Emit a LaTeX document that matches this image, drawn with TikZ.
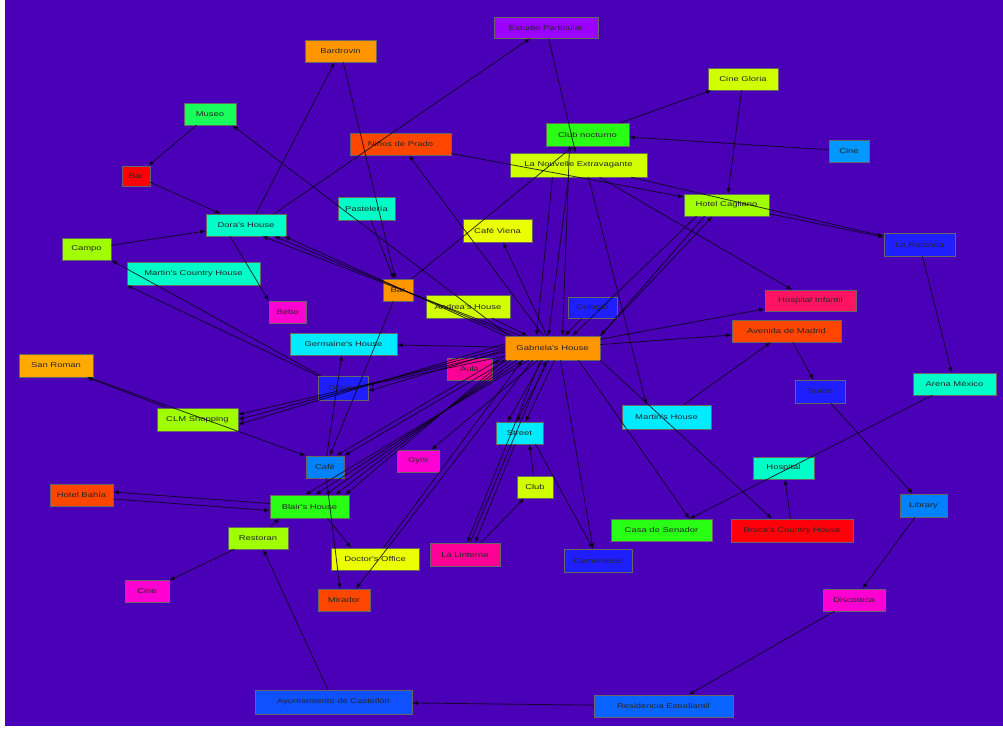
\documentclass[tikz,border=0pt]{standalone}
\usepackage{fontspec}
\newfontfamily\lbl[FakeStretch=1.35]{Liberation Sans}
\usetikzlibrary{arrows.meta}
\definecolor{bgc}{RGB}{74,0,182}
\definecolor{corange}{RGB}{255,150,0}
\definecolor{cgold}{RGB}{255,170,0}
\definecolor{cchart}{RGB}{160,255,0}
\definecolor{clime}{RGB}{210,255,0}
\definecolor{cyell}{RGB}{235,255,0}
\definecolor{cgreen}{RGB}{40,255,20}
\definecolor{cmint}{RGB}{0,255,200}
\definecolor{ccyan}{RGB}{0,235,255}
\definecolor{cazure}{RGB}{0,130,255}
\definecolor{cdblue}{RGB}{30,30,255}
\definecolor{cred}{RGB}{255,0,10}
\definecolor{cvermil}{RGB}{255,70,0}
\definecolor{cmag}{RGB}{255,0,210}
\definecolor{crose}{RGB}{255,0,150}
\definecolor{cpinkred}{RGB}{255,20,100}
\definecolor{cviolet}{RGB}{155,0,255}
\tikzset{
  box/.style={rectangle, draw=black!60, line width=0.5pt, inner sep=0pt,
    text=black!85, font={\lbl\fontsize{7}{8}\selectfont}},
  e/.style={draw=black!90!bgc, line width=0.8pt, draw opacity=0.8,
    -{Latex[length=5.5pt,width=4.5pt]}}
}
\begin{document}
\begin{tikzpicture}[x=1pt,y=-1pt]
\useasboundingbox (0,0) rectangle (1003,729);
\fill[white] (0,0) rectangle (1003,729);
\fill[bgc] (5,0) rectangle (1003,726);

% nodes
\node[box,fill=cviolet,minimum width=104pt,minimum height=21pt] (estudio) at (546,27.5) {Estudio Particular};
\node[box,fill=corange,minimum width=71pt,minimum height=22pt] (bardrovin) at (340.5,51) {Bardrovin};
\node[box,fill=cgreen!60!cmint,minimum width=52pt,minimum height=22pt] (museo) at (210,114) {Museo};
\node[box,fill=cred,minimum width=28pt,minimum height=20pt] (barred) at (136,176) {Bar};
\node[box,fill=cmint,minimum width=80pt,minimum height=22pt] (dora) at (246,225) {Dora's House};
\node[box,fill=cchart,minimum width=49pt,minimum height=22pt] (campo) at (86.5,249) {Campo};
\node[box,fill=cmint,minimum width=133pt,minimum height=23pt] (mch) at (193.5,273.5) {Martin's Country House};
\node[box,fill=cmag,minimum width=37pt,minimum height=22pt] (bebo) at (287.5,312) {Bebo};
\node[box,fill=ccyan,minimum width=107pt,minimum height=22pt] (germaine) at (343.5,344) {Germaine's House};
\node[box,fill=cgold,minimum width=74pt,minimum height=23pt] (sanroman) at (56,365.5) {San Roman};
\node[box,fill=cdblue,minimum width=50pt,minimum height=24pt] (oficina) at (343,388) {Oficina};
\node[box,fill=cchart,minimum width=81pt,minimum height=23pt] (clm) at (197.5,419.5) {CLM Shopping};
\node[box,fill=cazure,minimum width=38pt,minimum height=22pt] (cafe) at (325,467) {Café};
\node[box,fill=cvermil,minimum width=63pt,minimum height=22pt] (holbalde) at (81.5,495) {Hotel Bahía};
\node[box,fill=cgreen,minimum width=79pt,minimum height=23pt] (blair) at (309.5,506.5) {Blair's House};
\node[box,fill=cchart,minimum width=60pt,minimum height=22pt] (restoran) at (258,538) {Restoran};
\node[box,fill=cmag,minimum width=44pt,minimum height=22pt] (cinepink) at (147,591) {Cine};
\node[box,fill=cyell,minimum width=88pt,minimum height=22pt] (doctor) at (375,559) {Doctor's Office};
\node[box,fill=cvermil,minimum width=52pt,minimum height=22pt] (mirador) at (344,600) {Mirador};
\node[box,fill=crose,minimum width=70pt,minimum height=23pt] (linterna) at (465,554.5) {La Linterna};
\node[box,fill=clime,minimum width=36pt,minimum height=22pt] (club) at (535,487) {Club};
\node[box,fill=cdblue,minimum width=68pt,minimum height=23pt] (cementerio) at (598,560.5) {Cementerio};
\node[box,fill=cgreen,minimum width=101pt,minimum height=22pt] (senador) at (661.5,530) {Casa de Senador};
\node[box,fill=cred,minimum width=122pt,minimum height=23pt] (bruce) at (792,530.5) {Bruce's Country House};
\node[box,fill=cmint,minimum width=61pt,minimum height=22pt] (hospital) at (783.5,468) {Hospital};
\node[box,fill=cazure,minimum width=47pt,minimum height=23pt] (library) at (923.5,505.5) {Library};
\node[box,fill=cmag,minimum width=62pt,minimum height=22pt] (discoteca) at (854,600) {Discoteca};
\node[box,fill=cazure!70!cdblue,minimum width=139pt,minimum height=22pt] (residencia) at (663.5,706) {Residencia Estudiantil};
\node[box,fill=cazure!50!cdblue,minimum width=157pt,minimum height=24pt] (ayunt) at (333.5,702) {Ayuntamiento de Castellón};
\node[box,fill=cmint,minimum width=83pt,minimum height=22pt] (arena) at (954.5,384) {Arena México};
\node[box,fill=cdblue,minimum width=71pt,minimum height=23pt] (rotonda) at (919.5,244.5) {La Rotonda};
\node[box,fill=cdblue,minimum width=50pt,minimum height=23pt] (teatro) at (820,391.5) {Teatro};
\node[box,fill=cvermil,minimum width=109pt,minimum height=22pt] (avenida) at (786.5,331) {Avenida de Madrid};
\node[box,fill=cpinkred,minimum width=91pt,minimum height=21pt] (hinfantil) at (810.5,300.5) {Hospital Infantil};
\node[box,fill=ccyan,minimum width=89pt,minimum height=24pt] (martinh) at (666.5,417) {Martin's House};
\node[box,fill=corange,minimum width=95pt,minimum height=24pt] (gab) at (552.5,348) {Gabriela's House};
\node[box,fill=cdblue,minimum width=49pt,minimum height=21pt] (colegio) at (592.5,307.5) {Colegio};
\node[box,fill=clime,minimum width=84pt,minimum height=23pt] (andrea) at (468,306.5) {Andrea's House};
\node[box,fill=corange,minimum width=30pt,minimum height=22pt] (barsmall) at (398,290) {Bar};
\node[box,fill=crose,minimum width=45pt,minimum height=22pt] (aula) at (469.5,369) {Aula};
\node[box,fill=ccyan,minimum width=47pt,minimum height=22pt] (street) at (519.5,433) {Street};
\node[box,fill=cmag,minimum width=42pt,minimum height=22pt] (gym) at (418,461) {Gym};
\node[box,fill=cyell,minimum width=69pt,minimum height=23pt] (cafeviena) at (497.5,230.5) {Café Viena};
\node[box,fill=cmint,minimum width=57pt,minimum height=23pt] (pasteleria) at (366.5,208.5) {Pastelería};
\node[box,fill=cvermil,minimum width=101pt,minimum height=22pt] (ninos) at (400.5,144) {Niños de Prado};
\node[box,fill=cgreen,minimum width=83pt,minimum height=23pt] (clubnoct) at (587.5,134.5) {Club nocturno};
\node[box,fill=clime,minimum width=137pt,minimum height=24pt] (nouvelle) at (578.5,165) {La Nouvelle Extravagante};
\node[box,fill=clime,minimum width=70pt,minimum height=22pt] (cinegloria) at (743,79) {Cine Gloria};
\node[box,fill=cazure!80!ccyan,minimum width=40pt,minimum height=22pt] (cineblue) at (849,151) {Cine};
\node[box,fill=cchart,minimum width=85pt,minimum height=22pt] (cagliano) at (726.5,205) {Hotel Cagliano};

% edges
\draw[e] (museo) -- (barred);
\draw[e] (barred) -- (dora);
\draw[e] ([xshift=10pt]dora.north) -- (bardrovin);
\draw[e] ([xshift=28pt]dora.north) -- (estudio);
\draw[e] (campo) -- (dora);
\draw[e] ([xshift=-16pt]dora.south) -- (bebo.north west);
\foreach \a/\b in {0/-2,8/-12,16/-24} \draw[e] ([xshift=\a pt]gab.north west) -- ([xshift=\b pt]dora.south east);
\draw[e] ([xshift=4pt]gab.north west) -- ([xshift=-4pt]museo.south east);
\draw[e] (oficina) -- (campo.south east);
\draw[e] (oficina.north west) -- (mch.south west);
\draw[e] (sanroman) -- (cafe.north west);
\draw[e] (clm) -- (sanroman);
\foreach \a/\b in {-4/5,0/0,4/-5} \draw[e] ([yshift=\a pt]gab.west) -- ([yshift=\b pt]clm.east);
\foreach \a/\b in {-8/3,-2/-3} \draw[e] ([yshift=\a pt]gab.west) -- ([yshift=\b pt]oficina.east);
\draw[e] (cafe) -- (germaine);
\draw[e] (gab) -- (germaine);
\foreach \a/\b in {0/-4,6/-14,12/-24,18/-34,24/-44} \draw[e] ([xshift=\a pt]gab.south west) -- ([xshift=\b pt]blair.north east);
\draw[e] ([xshift=2pt]gab.south west) -- (cafe.north east);
\draw[e] ([yshift=4pt]gab.south west) -- ([xshift=-8pt]cafe.north east);
\draw[e] ([yshift=3pt]blair.west) -- ([yshift=3pt]holbalde.east);
\draw[e] ([yshift=-4pt]holbalde.east) -- ([yshift=-4pt]blair.west);
\draw[e] (restoran) -- ([xshift=-30pt]blair.south);
\draw[e] (restoran) -- (cinepink);
\draw[e] (ayunt) -- (restoran);
\draw[e] (cafe) -- ([xshift=-4pt]mirador.north);
\draw[e] ([xshift=18pt]blair.south) -- ([xshift=-24pt]doctor.north);
\draw[e] ([xshift=-20pt]gab.south) -- ([xshift=12pt]mirador.north);
\draw[e] ([xshift=-12pt]gab.south) -- ([xshift=2pt]linterna.north);
\draw[e] (street) -- ([xshift=10pt]linterna.north);
\draw[e] ([xshift=16pt]linterna.north) -- (club);
\draw[e] (club) -- ([xshift=10pt]street.south);
\draw[e] ([xshift=8pt]gab.south) -- ([xshift=-5pt]cementerio.north);
\draw[e] ([xshift=16pt]street.south) -- ([xshift=-5pt]cementerio.north);
\draw[e] ([xshift=26pt]gab.south) -- ([xshift=28pt]senador.north);
\draw[e] (arena) -- ([xshift=28pt]senador.north);
\draw[e] (bruce) -- (hospital);
\draw[e] (gab.south east) -- ([xshift=-20pt]bruce.north);
\draw[e] (avenida) -- (teatro);
\draw[e] (teatro) -- (library);
\draw[e] (library) -- (discoteca);
\draw[e] (discoteca) -- ([xshift=25pt]residencia.north);
\draw[e] (residencia) -- (ayunt);
\draw[e] (cagliano) -- (rotonda);
\draw[e] (rotonda) -- (arena);
\draw[e] (nouvelle) -- (hinfantil);
\draw[e] (nouvelle) -- (rotonda);
\draw[e] (gab) -- (avenida);
\draw[e] (gab) -- (hinfantil);
\draw[e] (martinh) -- (avenida);
\draw[e] ([xshift=10pt]nouvelle.south) -- ([xshift=-20pt]martinh.north);
\draw[e] (cineblue) -- (clubnoct);
\draw[e] (clubnoct) -- (cinegloria);
\draw[e] (cinegloria) -- (cagliano);
\draw[e] (estudio) -- (nouvelle);
\draw[e] (gab) -- (ninos);
\draw[e] (bardrovin) -- (barsmall);
\draw[e] (pasteleria) -- (barsmall);
\draw[e] (ninos) -- (cagliano);
\draw[e] (gab) -- (cafeviena);
\draw[e] (barsmall) -- (clubnoct);
\draw[e] (barsmall) -- (cafe);
\foreach \a/\b in {-10/-12,-4/-3,2/6} \draw[e] ([xshift=\a pt]gab.south) -- ([xshift=\b pt]street.north);
\draw[e] (gab) -- (gym);
\draw[e] (gab) -- (aula);
\draw[e] (andrea) -- (gab);
\draw[e] (colegio) -- (gab);
\draw[e] ([xshift=-30pt]cagliano.south) -- ([xshift=20pt]gab.north);
\draw[e] ([xshift=-22pt]cagliano.south) -- (gab.north east);
\draw[e] (gab.north east) -- ([xshift=-14pt]cagliano.south);
\draw[e] ([xshift=-10pt]nouvelle.south) -- ([xshift=-4pt]gab.north);
\draw[e] ([xshift=-26pt]nouvelle.south) -- ([xshift=-16pt]gab.north);
\draw[e] ([xshift=-18pt]clubnoct.south) -- ([xshift=10pt]gab.north);
\draw[e] (linterna) -- ([xshift=-6pt]gab.south);
\draw[e] (doctor) -- ([xshift=-30pt]gab.south);
\end{tikzpicture}
\end{document}
